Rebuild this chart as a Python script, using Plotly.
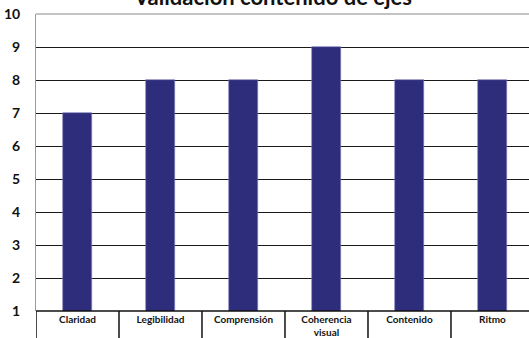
import plotly.graph_objects as go

categories = ["Claridad", "Legibilidad", "Comprensión", "Coherencia<br>visual", "Contenido", "Ritmo"]
values = [7, 8, 8, 9, 8, 8]
y_ticks = [1, 2, 3, 4, 5, 6, 7, 8, 9, 10]
title_text = "Validación contenido de ejes"

BAR = "#2E2D7C"
FONT = "Lato"

fig = go.Figure()
fig.add_trace(go.Bar(
    x=list(range(len(categories))), y=values, base=0,
    width=0.34, marker=dict(color=BAR, line=dict(color="#7a7ab8", width=0.6)),
))

fig.update_layout(
    width=529, height=338,
    margin=dict(l=36, r=0, t=14, b=25),
    paper_bgcolor="white", plot_bgcolor="white",
    showlegend=False,
    bargap=0,
    xaxis=dict(
        range=[-0.5, 5.44], tickmode="array",
        tickvals=list(range(len(categories))), ticktext=categories,
        showgrid=False, zeroline=False, showline=False, ticks="",
        tickfont=dict(family=FONT, size=10, color="#111", weight="bold"),
        ticklabelstandoff=1,
    ),
    yaxis=dict(
        range=[1, 10], tickmode="array", tickvals=y_ticks,
        showgrid=True, gridcolor="#1a1a1a", gridwidth=1.3,
        zeroline=False, showline=True, linecolor="#999", linewidth=1,
        ticks="", ticklabelstandoff=12,
        tickfont=dict(family=FONT, size=14, color="#111", weight="bold"),
    ),
)

# category band: boxes below the plot
shapes = [dict(type="line", xref="paper", yref="paper", x0=0, x1=1, y0=0, y1=0,
               line=dict(color="#111", width=1.5))]
for k in range(len(categories) + 1):
    xv = -0.5 + k
    shapes.append(dict(type="line", xref="x", yref="paper", x0=xv, x1=xv,
                       y0=0, y1=-0.2, line=dict(color="#111", width=1.5)))
shapes.append(dict(type="line", xref="paper", yref="paper", x0=0, x1=1, y0=1, y1=1,
                   line=dict(color="#888", width=1)))
fig.update_layout(shapes=shapes)

fig.add_annotation(text=title_text, xref="paper", yref="paper", x=0.48, y=1,
                   xanchor="center", yanchor="bottom", yshift=2, showarrow=False,
                   font=dict(family=FONT, size=22, color="#111", weight="bold"))

fig.write_html("out.html")
